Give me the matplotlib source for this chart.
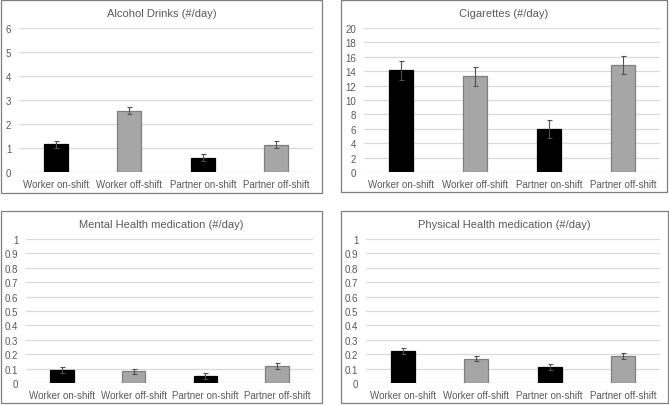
import matplotlib
matplotlib.use("Agg")
import matplotlib.pyplot as plt
from matplotlib.patches import Rectangle
from matplotlib.ticker import FuncFormatter

plt.rcParams['font.family'] = ['Liberation Sans', 'DejaVu Sans']

categories = ["Worker on-shift", "Worker off-shift", "Partner on-shift", "Partner off-shift"]

alcohol_vals = [1.15, 2.55, 0.60, 1.13]
alcohol_err = [0.15, 0.15, 0.15, 0.15]
cig_vals = [14.1, 13.3, 6.0, 14.85]
cig_err = [1.3, 1.3, 1.25, 1.3]
mental_vals = [0.09, 0.08, 0.05, 0.12]
mental_err = [0.02, 0.02, 0.02, 0.02]
physical_vals = [0.22, 0.17, 0.11, 0.19]
physical_err = [0.02, 0.02, 0.02, 0.02]

titles = ["Alcohol Drinks (#/day)", "Cigarettes (#/day)",
          "Mental Health medication (#/day)", "Physical Health medication (#/day)"]
yticks_list = [[0, 1, 2, 3, 4, 5, 6],
               [0, 2, 4, 6, 8, 10, 12, 14, 16, 18, 20],
               [0, 0.1, 0.2, 0.3, 0.4, 0.5, 0.6, 0.7, 0.8, 0.9, 1],
               [0, 0.1, 0.2, 0.3, 0.4, 0.5, 0.6, 0.7, 0.8, 0.9, 1]]

W, H = 669, 406
fig = plt.figure(figsize=(W / 100, H / 100), dpi=100)

bar_colors = ["#000000", "#A6A6A6", "#000000", "#A6A6A6"]
edge_colors = ["#000000", "#7F7F7F", "#000000", "#7F7F7F"]
text_color = "#595959"

# (box x0, y0, x1, y1), (plot x0, ytop, x1, ybottom), title y
layouts = [
    ((1, 1, 322, 194), (19, 29, 313, 173), 14),
    ((341, 1, 667, 193), (364, 29, 660, 173), 14),
    ((1, 212, 322, 404), (26, 240, 313, 384), 225),
    ((341, 212, 668, 404), (366, 240, 660, 384), 225),
]

data = [(alcohol_vals, alcohol_err), (cig_vals, cig_err),
        (mental_vals, mental_err), (physical_vals, physical_err)]

for (box, area, ty), (vals, errs), title, yt in zip(layouts, data, titles, yticks_list):
    bx0, by0, bx1, by1 = box
    fig.patches.append(Rectangle((bx0 / W, 1 - by1 / H), (bx1 - bx0) / W, (by1 - by0) / H,
                                 transform=fig.transFigure, fill=False,
                                 edgecolor="#7F7F7F", linewidth=0.9))
    ax0, aytop, ax1, aybot = area
    ax = fig.add_axes([ax0 / W, 1 - aybot / H, (ax1 - ax0) / W, (aybot - aytop) / H])
    xs = list(range(len(categories)))
    ax.bar(xs, vals, width=0.33, color=bar_colors, edgecolor=edge_colors, linewidth=0.9, zorder=3)
    ax.errorbar(xs, vals, yerr=errs, fmt='none', ecolor="#505050", elinewidth=0.8,
                capsize=1.8, capthick=0.8, zorder=4)
    ax.set_xlim(-0.5, 3.5)
    ax.set_ylim(yt[0], yt[-1])
    ax.set_yticks(yt)
    ax.yaxis.set_major_formatter(FuncFormatter(lambda v, p: f"{v:g}"))
    ax.set_xticks(xs)
    ax.set_xticklabels(categories)
    ax.grid(axis='y', color="#D9D9D9", linewidth=0.9, zorder=0)
    ax.set_axisbelow(True)
    for s in ax.spines.values():
        s.set_visible(False)
    ax.tick_params(axis='both', length=0, labelsize=7, colors=text_color, labelcolor=text_color)
    ax.tick_params(axis='y', pad=5.5)
    ax.tick_params(axis='x', pad=5)
    ax.patch.set_alpha(0)
    tx = (bx0 + bx1) / 2
    fig.text(tx / W, 1 - ty / H, title, ha='center', va='center', fontsize=8, color=text_color)

fig.savefig("out.png", dpi=100)
